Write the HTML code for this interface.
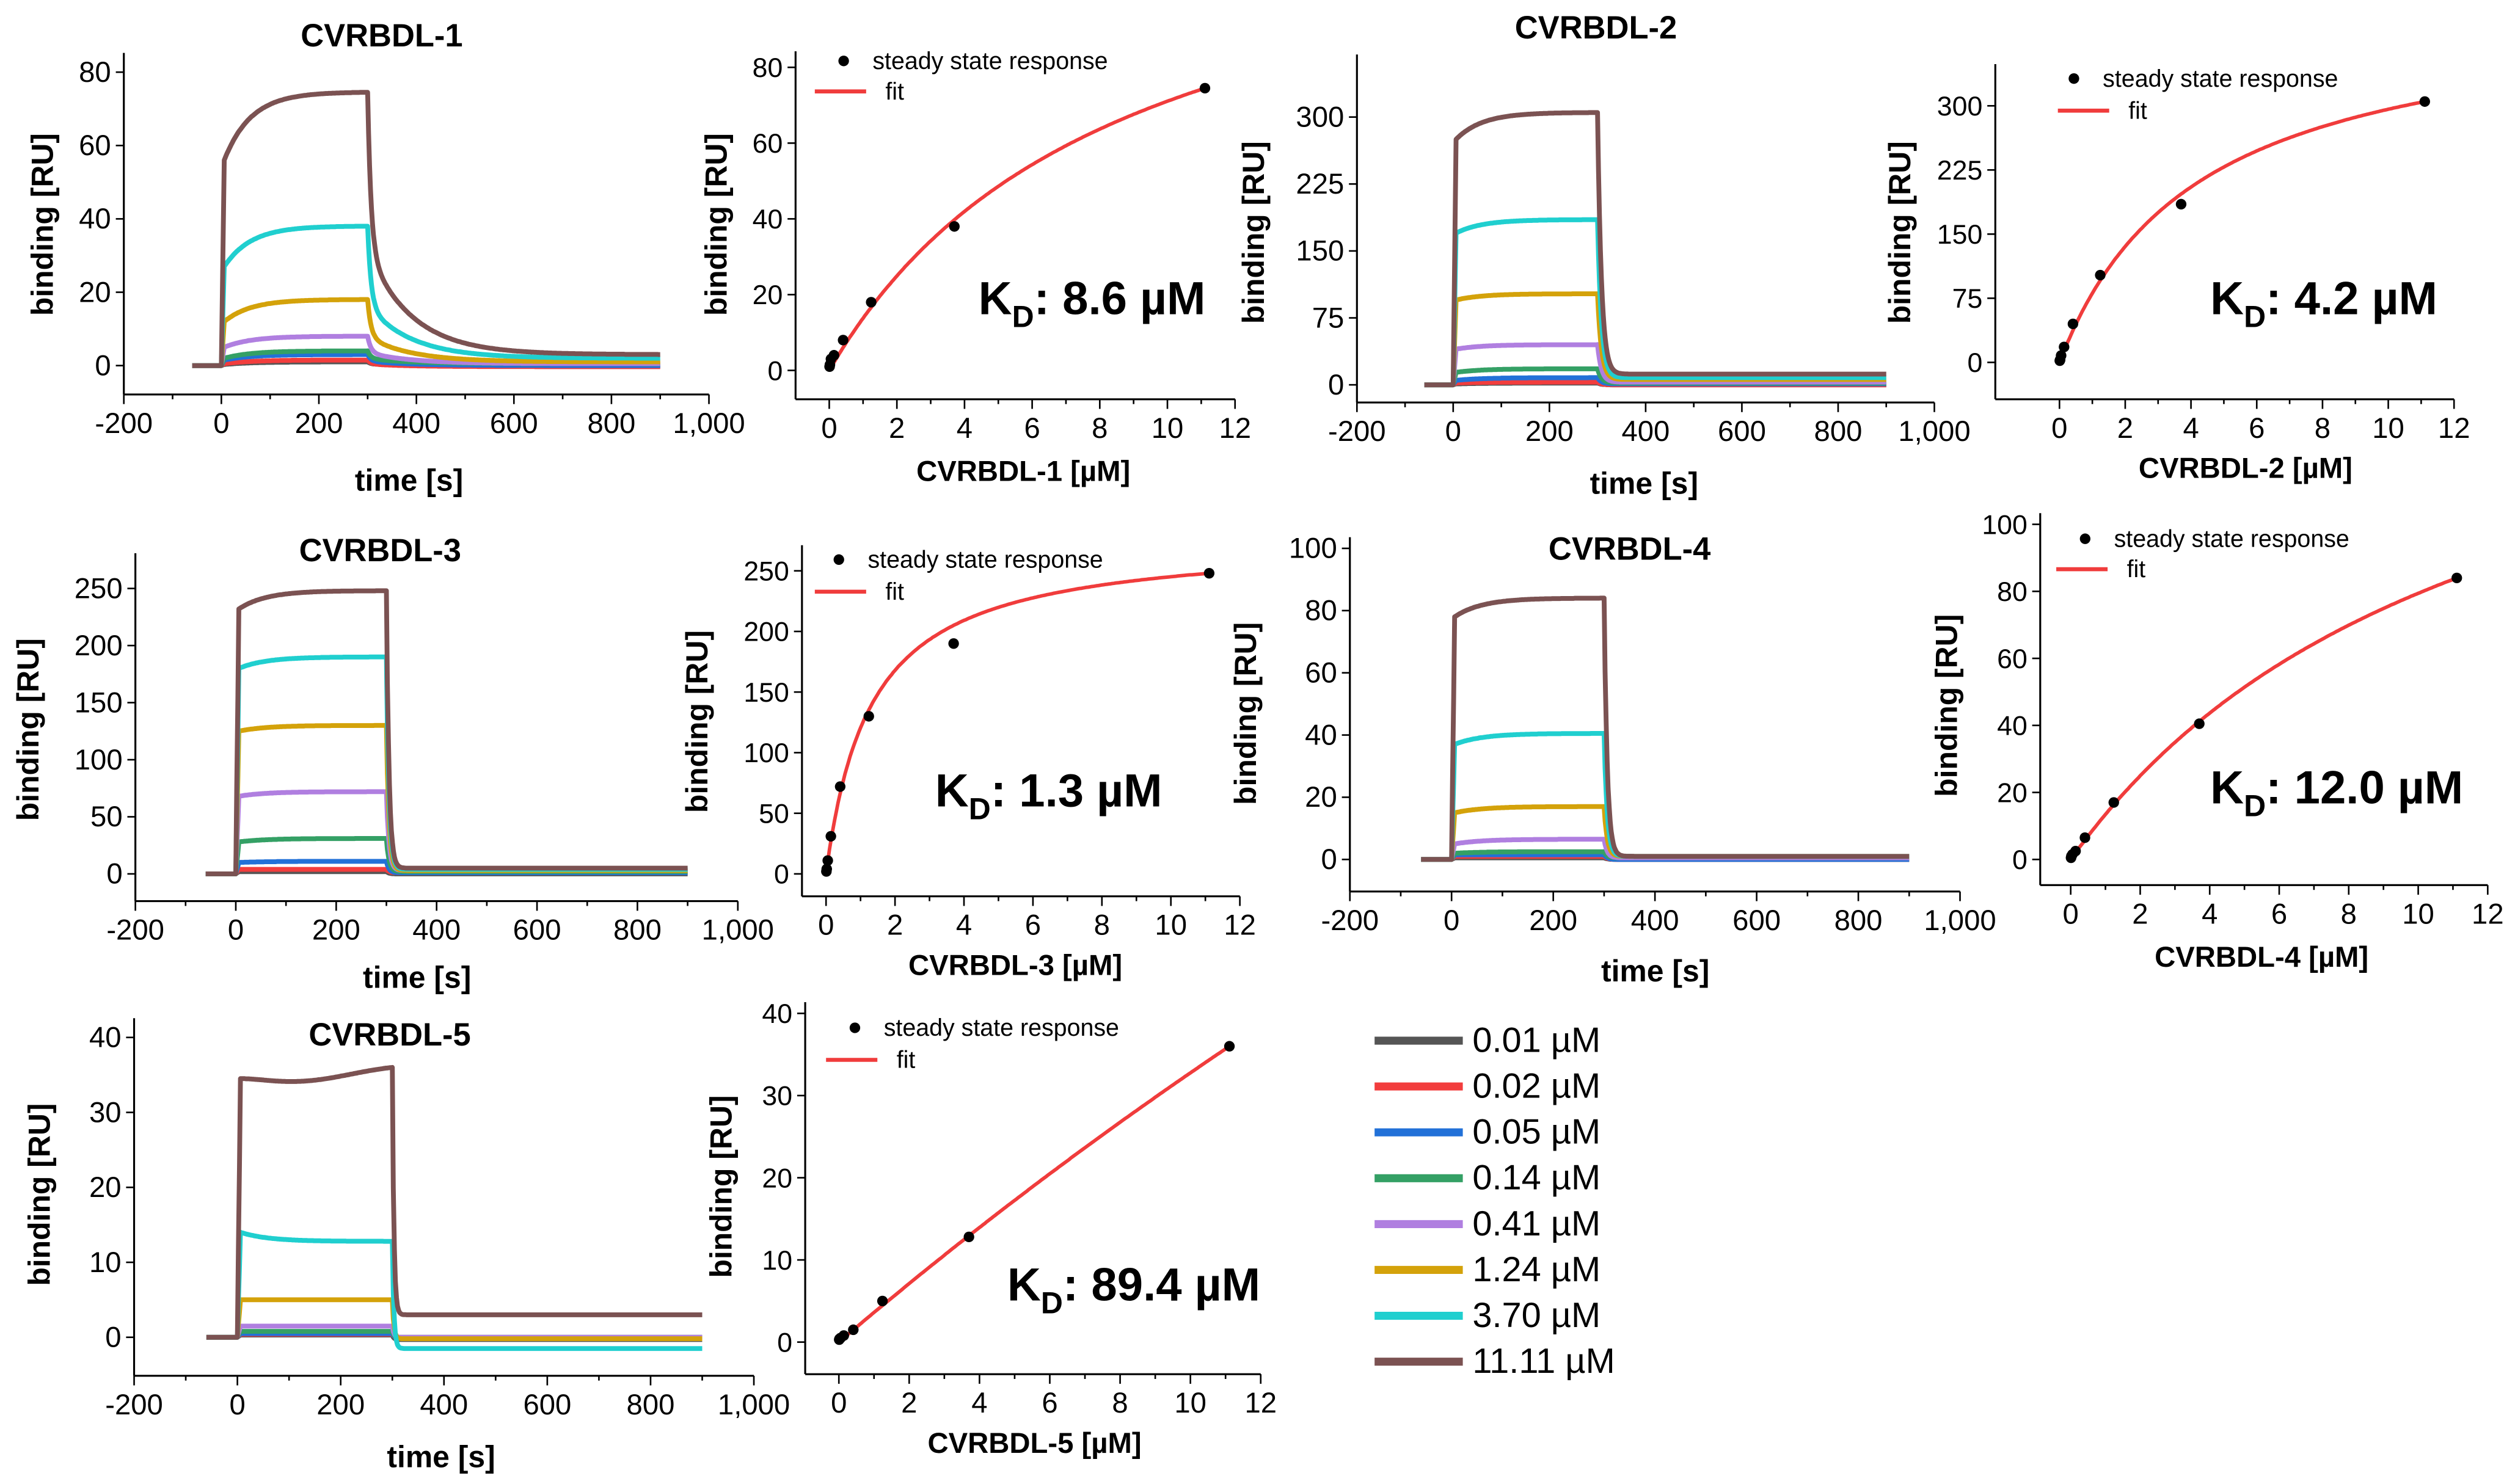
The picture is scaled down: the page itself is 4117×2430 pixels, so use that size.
<!DOCTYPE html>
<html><head><meta charset="utf-8">
<style>
html,body{margin:0;padding:0;background:#fff;}
svg{display:block;}
text{font-family:"Liberation Sans Narrow","Liberation Sans",sans-serif;fill:#000;}
.b{font-family:"Liberation Sans",sans-serif;font-weight:bold;}
</style></head>
<body>
<svg id="fig" xmlns="http://www.w3.org/2000/svg" width="4117" height="2430" viewBox="0 0 1568 925.5"></svg>
<script>
const concLabels = ["0.01 µM","0.02 µM","0.05 µM","0.14 µM","0.41 µM","1.24 µM","3.70 µM","11.11 µM"];
const concValues = [0.01,0.02,0.05,0.14,0.41,1.24,3.70,11.11];
const colors = ["#555555","#f23d3d","#2271d8","#34a065","#b07fe0","#d4a20a","#20cfcf","#7b5252"];
const names = ["CVRBDL-1","CVRBDL-2","CVRBDL-3","CVRBDL-4","CVRBDL-5"];
const kdValues = [8.6,4.2,1.3,12.0,89.4];
const startVals1 = [0.3,0.5,1.5,2,5,12,27,56];
const endVals1 = [1,1.5,3,4,8,18,38,74.5];
const residVals1 = [0,-0.3,0,0.5,0.5,1,2,3];
const startVals2 = [1,2,5,14,40,95,170,275];
const endVals2 = [2,3,8,18,45,102,185,305];
const residVals2 = [0,0,1,2,3,6,8,12];
const startVals3 = [2,4,10,28,68,125,180,232];
const endVals3 = [2,4,11,31,72,130,190,248];
const residVals3 = [0,1,1,2,3,3,4,5];
const startVals4 = [0.5,1,1.5,2,5,15,37,78];
const endVals4 = [0.5,1,1.5,2.5,6.5,17,40.5,84];
const residVals4 = [0,0,0,0.5,0.5,1,1,1];
const startVals5 = [0.3,0.4,0.5,0.8,1.5,5,14,34.5];
const endVals5 = [0.3,0.4,0.5,0.8,1.5,5,12.8,36];
const residVals5 = [-0.3,0,0,0,0,-0.2,-1.5,3];
const sensTicks1 = [0,20,40,60,80];
const sensTicks2 = [0,75,150,225,300];
const sensTicks3 = [0,50,100,150,200,250];
const sensTicks4 = [0,20,40,60,80,100];
const sensTicks5 = [0,10,20,30,40];
const timeTicks = [-200,0,200,400,600,800,1000];
const timeTickLabels = ["-200","0","200","400","600","800","1,000"];
const concTicks = [0,2,4,6,8,10,12];

const NS="http://www.w3.org/2000/svg";
const svg=document.getElementById('fig');
function mk(tag,attrs,parent){const e=document.createElementNS(NS,tag);for(const k in attrs)e.setAttribute(k,attrs[k]);(parent||svg).appendChild(e);return e;}
function txt(s,attrs,parent){const e=mk('text',attrs,parent);e.textContent=s;return e;}

const sensCfg=[
 {tx0:138,tx1:442,y0:228,yr:80,yrp:45,bot:246,top:33,ticks:sensTicks1,st:startVals1,en:endVals1,rs:residVals1,tauD:40,slow:true,title:[238,22],xl:[255,300],yl:[27,140]},
 {tx0:906,tx1:1206,y0:240,yr:300,yrp:73,bot:251,top:34,ticks:sensTicks2,st:startVals2,en:endVals2,rs:residVals2,tauD:8,title:[995,17],xl:[1025,302],yl:[782,145]},
 {tx0:147,tx1:460,y0:545,yr:250,yrp:367,bot:562,top:345,ticks:sensTicks3,st:startVals3,en:endVals3,rs:residVals3,tauD:5,title:[237,343],xl:[260,610],yl:[18,455]},
 {tx0:905,tx1:1222,y0:536,yr:100,yrp:342,bot:556,top:335,ticks:sensTicks4,st:startVals4,en:endVals4,rs:residVals4,tauD:6,title:[1016,342],xl:[1032,606],yl:[777,445]},
 {tx0:148,tx1:470,y0:834,yr:40,yrp:647,bot:858,top:635,ticks:sensTicks5,st:startVals5,en:endVals5,rs:residVals5,tauD:3,title:[243,645],xl:[275,909],yl:[25,745]}
];
const ssCfg=[
 {ax:496,x0:517,x12:770,y0:231,yr:80,yrp:42,bot:249,top:32,ticks:sensTicks1,en:endVals1,leg:[526,38,508,57],kd:[610,185],xl:[638,294],yl:[447,140]},
 {ax:1244,x0:1284,x12:1530,y0:226,yr:300,yrp:66,bot:249,top:40,ticks:sensTicks2,en:endVals2,leg:[1293,49,1283,69],kd:[1378,185],xl:[1400,292],yl:[1185,145]},
 {ax:500,x0:515,x12:773,y0:545,yr:250,yrp:356,bot:559,top:340,ticks:sensTicks3,en:endVals3,leg:[523,349,508,369],kd:[583,492],xl:[633,602],yl:[435,450]},
 {ax:1272,x0:1291,x12:1551,y0:536,yr:100,yrp:327,bot:552,top:320,ticks:sensTicks4,en:endVals4,leg:[1300,336,1282,355],kd:[1378,490],xl:[1410,597],yl:[1214,440]},
 {ax:502,x0:523,x12:786,y0:837,yr:40,yrp:632,bot:857,top:625,ticks:sensTicks5,en:endVals5,leg:[533,641,515,661],kd:[628,800],xl:[645,900],yl:[450,740]}
];

sensCfg.forEach((c,pi)=>{
 const g=mk('g',{});
 
 
 const X=t=>c.tx0+(c.tx1-c.tx0)*t/1000;
 const Y=v=>c.y0-(c.y0-c.yrp)*v/c.yr;
 const ax=X(-200);
 mk('line',{x1:ax,y1:c.top,x2:ax,y2:c.bot,stroke:'#000','stroke-width':1.2},g);
 mk('line',{x1:ax,y1:c.bot,x2:X(1000),y2:c.bot,stroke:'#000','stroke-width':1.2},g);
 c.ticks.forEach(v=>{mk('line',{x1:ax-5,y1:Y(v),x2:ax,y2:Y(v),stroke:'#000','stroke-width':1},g);
  const t=txt(String(v),{x:ax-8,y:Y(v)+6,'font-size':18,'text-anchor':'end'},g);
  });
 timeTicks.forEach((v,i)=>{mk('line',{x1:X(v),y1:c.bot,x2:X(v),y2:c.bot+6,stroke:'#000','stroke-width':1},g);
  if(i<timeTicks.length-1)mk('line',{x1:X(v+100),y1:c.bot,x2:X(v+100),y2:c.bot+3,stroke:'#000','stroke-width':1},g);
  const t=txt(timeTickLabels[i],{x:X(v),y:c.bot+24,'font-size':18,'text-anchor':'middle'},g);
  });
 for(let k=0;k<8;k++){
  const s=c.st[k],e=c.en[k],r=c.rs[k];let pts=[];
  for(let t=-60;t<=900;t+=2){let v;
   if(t<0)v=0;
   else if(t<=300){ if(t<6)v=s*t/6; else {v=s+(e-s)*(1-Math.exp(-(t-6)/55))/(1-Math.exp(-294/55));
      if(pi===4&&k===7)v-=2.5*Math.sin(Math.PI*(t-6)/294)*(1-(t-6)/400);} }
   else { const dt=t-300;
     if(c.slow) v=r+(e-r)*(0.6*Math.exp(-dt/7)+0.4*Math.exp(-dt/90));
     else v=r+(e-r)*Math.exp(-dt/c.tauD); }
   pts.push(X(t).toFixed(1)+','+Y(v).toFixed(1));}
  const p=mk('polyline',{points:pts.join(' '),fill:'none',stroke:colors[k],'stroke-width':3,'stroke-linejoin':'round'},g);
  
  
 }
 const tt=txt(names[pi],{x:c.title[0],y:c.title[1]+7,'font-size':20,'text-anchor':'middle',class:'b'},g);
 
 const xl=txt('time [s]',{x:c.xl[0],y:c.xl[1]+6,'font-size':19,'text-anchor':'middle',class:'b'},g);
 
 const yl=txt('binding [RU]',{x:0,y:0,'font-size':19,'text-anchor':'middle',class:'b',transform:`translate(${c.yl[0]+6},${c.yl[1]}) rotate(-90)`},g);
 
});

ssCfg.forEach((c,pi)=>{
 const g=mk('g',{});
 
 
 const X=v=>c.x0+(c.x12-c.x0)*v/12;
 const Y=v=>c.y0-(c.y0-c.yrp)*v/c.yr;
 mk('line',{x1:c.ax,y1:c.top,x2:c.ax,y2:c.bot,stroke:'#000','stroke-width':1.2},g);
 mk('line',{x1:c.ax,y1:c.bot,x2:X(12),y2:c.bot,stroke:'#000','stroke-width':1.2},g);
 c.ticks.forEach(v=>{mk('line',{x1:c.ax-5,y1:Y(v),x2:c.ax,y2:Y(v),stroke:'#000','stroke-width':1},g);
  const t=txt(String(v),{x:c.ax-8,y:Y(v)+6,'font-size':17,'text-anchor':'end'},g);
  });
 concTicks.forEach(v=>{mk('line',{x1:X(v),y1:c.bot,x2:X(v),y2:c.bot+6,stroke:'#000','stroke-width':1},g);
  if(v<12)mk('line',{x1:X(v+1),y1:c.bot,x2:X(v+1),y2:c.bot+3,stroke:'#000','stroke-width':1},g);
  const t=txt(String(v),{x:X(v),y:c.bot+24,'font-size':18,'text-anchor':'middle'},g);
  });
 const kd=kdValues[pi], rmax=c.en[7]*(kd+concValues[7])/concValues[7];
 let pts=[];for(let x=0;x<=concValues[7]+0.001;x+=0.05){pts.push(X(x).toFixed(1)+','+Y(rmax*x/(kd+x)).toFixed(1));}
 const f=mk('polyline',{points:pts.join(' '),fill:'none',stroke:'#f03c3c','stroke-width':2.2},g);
 
 concValues.forEach((cv,k)=>{const d=mk('circle',{cx:X(cv),cy:Y(c.en[k]),r:3.3,fill:'#000'},g);
  });
 const L=c.leg;
 const ld=mk('circle',{cx:L[0],cy:L[1],r:3.3,fill:'#000'},g);
 
 const lt=txt('steady state response',{x:L[0]+18,y:L[1]+5,'font-size':15,style:'font-family:"Liberation Sans",sans-serif'},g);
 
 const ll=mk('line',{x1:L[2],y1:L[3],x2:L[2]+32,y2:L[3],stroke:'#f03c3c','stroke-width':2.5},g);
 
 const lf=txt('fit',{x:L[2]+44,y:L[3]+5,'font-size':15,style:'font-family:"Liberation Sans",sans-serif'},g);
 
 const k=mk('text',{x:c.kd[0],y:c.kd[1]+11,'font-size':29,class:'b'},g);
 
 k.innerHTML='K<tspan font-size="19" dy="8">D</tspan><tspan dy="-8">: '+kd.toFixed(1)+' µM</tspan>';
 const xl=txt(names[pi]+' [µM]',{x:c.xl[0],y:c.xl[1]+6,'font-size':18,'text-anchor':'middle',class:'b'},g);
 
 const yl=txt('binding [RU]',{x:0,y:0,'font-size':19,'text-anchor':'middle',class:'b',transform:`translate(${c.yl[0]+6},${c.yl[1]}) rotate(-90)`},g);
 
});

const lg=mk('g',{});


concLabels.forEach((s,k)=>{const y=649+k*28.6;
 const l=mk('line',{x1:857,y1:y,x2:912,y2:y,stroke:colors[k],'stroke-width':5},lg);
 
 const t=txt(s,{x:918,y:y+7,'font-size':22,style:'font-family:"Liberation Sans",sans-serif'},lg);
 });
</script>
</body></html>
